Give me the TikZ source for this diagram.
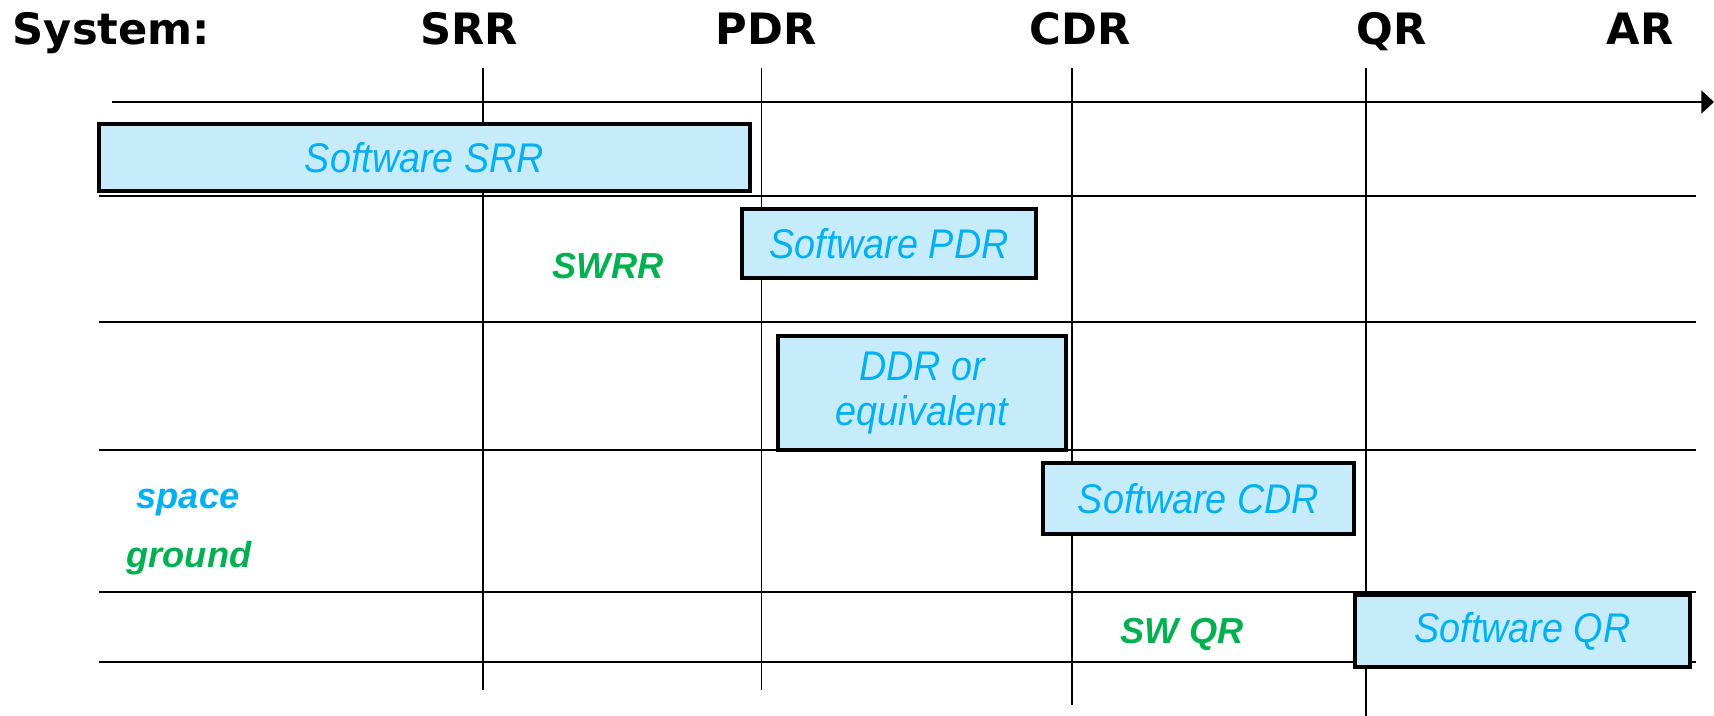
\documentclass[tikz,border=0pt]{standalone}
\usepackage{fontspec}
\usepackage{tikz}
\usetikzlibrary{arrows.meta, positioning}
\setmainfont{Liberation Sans}
\newfontfamily\headfont{DejaVu Sans}
\newfontfamily\narrowfont[FakeStretch=0.91]{Liberation Sans}
\definecolor{skyblue}{RGB}{0,176,240}
\definecolor{revgreen}{RGB}{0,176,80}
\definecolor{boxfill}{RGB}{198,236,252}

\begin{document}
\begin{tikzpicture}[
            review/.style={font=\headfont\bfseries\fontsize{12.3}{14}\selectfont, anchor=base, inner sep=0pt},
            swbox/.style={rectangle, draw=black, line width=0.9pt, fill=boxfill, text=skyblue, align=center, inner sep=0pt, font=\narrowfont\itshape\fontsize{11.8}{12.6}\selectfont},
            swtag/.style={font=\bfseries\itshape\fontsize{10.3}{12}\selectfont, anchor=base, inner sep=0pt},
            gridline/.style={line width=0.6pt},
            mileline/.style={line width=0.55pt}
        ]
            \useasboundingbox (0,0) rectangle (17.14,-7.16);

            \node[review, anchor=base west] (system) at (0.12,-0.45) {System:};
            \node[review] (srr) at (4.69,-0.45) {SRR};
            \node[review] (pdr) at (7.66,-0.45) {PDR};
            \node[review] (cdr) at (10.80,-0.45) {CDR};
            \node[review] (qr) at (13.92,-0.45) {QR};
            \node[review] (ar) at (16.40,-0.45) {AR};

            \draw[mileline] (4.83,-0.68) -- (4.83,-6.90);
            \draw[mileline] (7.615,-0.68) -- (7.615,-6.90);
            \draw[mileline] (10.72,-0.68) -- (10.72,-7.05);
            \draw[mileline] (13.66,-0.68) -- (13.66,-7.16);

            \draw[line width=0.7pt, -{Triangle[length=3.6pt, width=6.5pt]}] (1.12,-1.02) -- (17.14,-1.02);
            \draw[gridline] (0.99,-1.96) -- (16.96,-1.96);
            \draw[gridline] (0.99,-3.22) -- (16.96,-3.22);
            \draw[gridline] (0.99,-4.50) -- (16.96,-4.50);
            \draw[gridline] (0.99,-5.92) -- (16.96,-5.92);
            \draw[gridline] (0.99,-6.62) -- (16.96,-6.62);

            \node[swbox, minimum width=6.51cm, minimum height=0.67cm] (swsrr) at (4.245,-1.575) {Software SRR};
            \node[swbox, minimum width=2.94cm, minimum height=0.69cm] (swpdr) at (8.89,-2.435) {Software PDR};
            \node[swbox, minimum width=2.88cm, minimum height=1.14cm] (ddr) at (9.22,-3.93) {DDR or\\equivalent};
            \node[swbox, minimum width=3.11cm, minimum height=0.71cm] (swcdr) at (11.985,-4.985) {Software CDR};
            \node[swbox, minimum width=3.35cm, minimum height=0.72cm] (swqr) at (15.225,-6.31) {Software QR};

            \node[swtag, text=revgreen] (swrr) at (6.08,-2.79) {SWRR};
            \node[swtag, text=skyblue] (space) at (1.88,-5.08) {space};
            \node[swtag, text=revgreen] (ground) at (1.89,-5.67) {ground};
            \node[swtag, text=revgreen] (swqrtag) at (11.82,-6.43) {SW QR};
        \end{tikzpicture}
\end{document}
